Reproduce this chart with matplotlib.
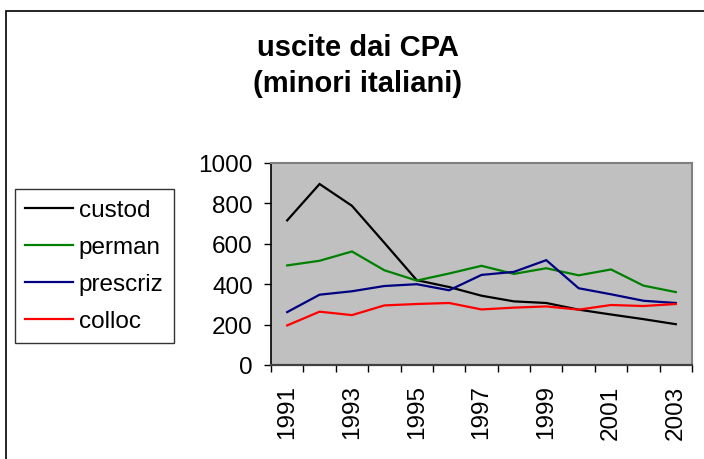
import matplotlib
matplotlib.use("Agg")
import numpy as np
import matplotlib.pyplot as plt
from matplotlib.patches import Rectangle

years = list(range(1991, 2004))
custod = [716, 896, 788, 605, 420, 386, 343, 315, 307, 274, 250, 227, 202]
perman = [493, 516, 562, 469, 418, 453, 491, 451, 479, 444, 473, 393, 361]
prescriz = [262, 348, 365, 391, 400, 370, 446, 461, 519, 380, 350, 318, 307]
colloc = [196, 264, 247, 295, 302, 307, 275, 284, 290, 274, 297, 292, 302]

series_names = ["custod", "perman", "prescriz", "colloc"]
series_colors = ["#000000", "#008000", "#000080", "#ff0000"]

plt.rcParams["font.family"] = ["Liberation Sans", "DejaVu Sans"]

fig = plt.figure(figsize=(7.04, 4.6), dpi=100)
ax = fig.add_axes([271 / 704, 1 - 366 / 460, 421 / 704, 202 / 460])
ax.set_facecolor("#c0c0c0")

x = np.arange(len(years))
lines = []
for values, name, color in zip([custod, perman, prescriz, colloc], series_names, series_colors):
    ln, = ax.plot(x, values, color=color, lw=1.6, label=name, solid_joinstyle="miter")
    lines.append(ln)

ax.set_xlim(-0.5, len(years) - 0.5)
ax.set_ylim(0, 1000)
ax.set_yticks(range(0, 1001, 200))
ax.tick_params(axis="y", labelsize=17.5, length=5, width=1, direction="out", pad=8)

# tick marks between categories, labels every other year
ax.set_xticks(np.arange(-0.5, len(years)), minor=False)
ax.set_xticklabels([])
ax.set_xticks(x[::2], minor=True)
ax.set_xticklabels([str(y) for y in years[::2]], minor=True, rotation=90, fontsize=17.5)
ax.tick_params(axis="x", which="major", length=5, width=1, direction="out")
ax.tick_params(axis="x", which="minor", length=0, pad=14)

for side in ["top", "right"]:
    ax.spines[side].set_color("#808080")
    ax.spines[side].set_linewidth(1.5)
ax.spines["left"].set_color("#000000")
ax.spines["left"].set_linewidth(1.2)
ax.spines["bottom"].set_color("#404040")
ax.spines["bottom"].set_linewidth(1.6)

fig.text(357.5 / 704, 1 - 34 / 460, "uscite dai CPA\n(minori italiani)",
         ha="center", va="top", fontsize=21, fontweight="bold", linespacing=1.38)

leg = fig.legend(handles=lines, loc="upper left", bbox_to_anchor=(15 / 704, 1 - 190 / 460),
                 fontsize=17.5, frameon=True, fancybox=False, edgecolor="black",
                 handlelength=1.95, handletextpad=0.25, labelspacing=0.62,
                 borderpad=0.42, borderaxespad=0)
leg.get_frame().set_linewidth(1.0)

# outer chart border (runs off the right and bottom edges)
fig.add_artist(Rectangle((6 / 704, -0.1), 1.2, 1.1 - 12 / 460, transform=fig.transFigure,
                         fill=False, edgecolor="black", lw=1.2))

fig.savefig("out.png", dpi=100)
